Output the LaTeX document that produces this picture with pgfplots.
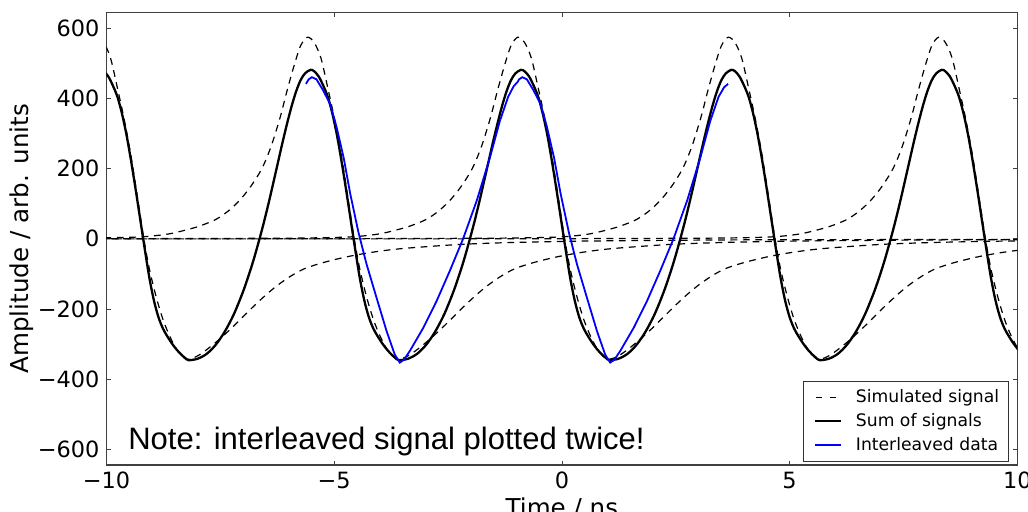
\documentclass[border=0pt]{standalone}
\usepackage{fontspec}
\setmainfont{DejaVu Sans}
\newfontfamily\notefont{Liberation Sans}
\usepackage{pgfplots}
\pgfplotsset{compat=1.18}
\definecolor{mplblue}{RGB}{0,0,255}
\begin{document}
\begin{tikzpicture}
\path[use as bounding box] (-53.25pt,-23.5pt) rectangle (460.75pt,232.5pt);
\begin{axis}[name=ax, at={(0,0)}, anchor=south west,
  scale only axis, width=455.4pt, height=226.15pt,
  xmin=-10, xmax=10, ymin=-645, ymax=645,
  xtick={-10,-5,0,5,10}, xticklabels={−10,−5,0,5,10},
  ytick={-600,-400,-200,0,200,400,600}, yticklabels={−600,−400,−200,0,200,400,600},
  tick label style={font=\fontsize{11.2}{13}\selectfont},
  tick align=inside, major tick length=2.2pt,
  every tick/.style={black!75, line width=0.4pt},
  axis line style={black!75, line width=0.55pt},
  legend cell align=left,
  legend style={at={(1,0)}, anchor=south east, xshift=-4.3pt, yshift=1.6pt,
    draw=black!80, line width=0.5pt, font=\fontsize{8.6}{10}\selectfont,
    inner xsep=2.5pt, inner ysep=2pt, row sep=0pt},
  sim/.style={black, line width=0.6pt, dash pattern=on 3.4pt off 2.8pt, smooth},
]
% simulated signals (dashed)
\addplot[sim, legend image code/.code={\draw[black, line width=0.6pt, dash pattern=on 3.4pt off 3.6pt] (0.3pt,0pt) -- (13pt,0pt); \path[draw=none] (-3pt,0pt) (18.5pt,0pt);}] coordinates {
(-10.36,550) (-10.21,575) (-10.06,560) (-9.91,515) (-9.76,430) (-9.61,340) (-9.46,235) (-9.31,110) (-9.18,0) (-9.06,-85) (-8.91,-165) (-8.76,-230) (-8.61,-278) (-8.46,-315) (-8.31,-338) (-8.25,-344) (-8.10,-340) (-7.95,-330) (-7.75,-311) (-7.50,-284) (-7.25,-254) (-7.00,-222) (-6.75,-190) (-6.50,-160) (-6.25,-133) (-5.95,-106) (-5.65,-85) (-5.25,-68) (-4.75,-52) (-4.25,-40) (-3.75,-31) (-3.25,-25) (-2.25,-16) (-1.25,-11) (-0.25,-8) (0.75,-6) (3.75,-3) (7.75,-2) (11.75,-1)
};
\addlegendentry{Simulated signal}
\addplot[sim, forget plot] coordinates {
(-10.59,2) (-9.59,4) (-9.09,7) (-8.59,15) (-8.09,31) (-7.84,42) (-7.59,56) (-7.34,78) (-7.09,108) (-6.84,148) (-6.59,200) (-6.39,262) (-6.19,345) (-6.04,420) (-5.89,490) (-5.74,550) (-5.59,575) (-5.44,560) (-5.29,515) (-5.14,430) (-4.99,340) (-4.84,235) (-4.69,110) (-4.56,0) (-4.44,-85) (-4.29,-165) (-4.14,-230) (-3.99,-278) (-3.84,-315) (-3.69,-338) (-3.63,-344) (-3.48,-340) (-3.33,-330) (-3.13,-311) (-2.88,-284) (-2.63,-254) (-2.38,-222) (-2.13,-190) (-1.88,-160) (-1.63,-133) (-1.33,-106) (-1.03,-85) (-0.63,-68) (-0.13,-52) (0.37,-40) (0.87,-31) (1.37,-25) (2.37,-16) (3.37,-11) (4.37,-8) (5.37,-6) (8.37,-3) (12.37,-2)
};
\addplot[sim, forget plot] coordinates {
(-10.97,0) (-7.97,1) (-5.97,2) (-4.97,4) (-4.47,7) (-3.97,15) (-3.47,31) (-3.22,42) (-2.97,56) (-2.72,78) (-2.47,108) (-2.22,148) (-1.97,200) (-1.77,262) (-1.57,345) (-1.42,420) (-1.27,490) (-1.12,550) (-0.97,575) (-0.82,560) (-0.67,515) (-0.52,430) (-0.37,340) (-0.22,235) (-0.07,110) (0.06,0) (0.18,-85) (0.33,-165) (0.48,-230) (0.63,-278) (0.78,-315) (0.93,-338) (0.99,-344) (1.14,-340) (1.29,-330) (1.49,-311) (1.74,-284) (1.99,-254) (2.24,-222) (2.49,-190) (2.74,-160) (2.99,-133) (3.29,-106) (3.59,-85) (3.99,-68) (4.49,-52) (4.99,-40) (5.49,-31) (5.99,-25) (6.99,-16) (7.99,-11) (8.99,-8) (9.99,-6) (12.99,-3)
};
\addplot[sim, forget plot] coordinates {
(-10.35,0) (-6.35,0) (-3.35,1) (-1.35,2) (-0.35,4) (0.15,7) (0.65,15) (1.15,31) (1.40,42) (1.65,56) (1.90,78) (2.15,108) (2.40,148) (2.65,200) (2.85,262) (3.05,345) (3.20,420) (3.35,490) (3.50,550) (3.65,575) (3.80,560) (3.95,515) (4.10,430) (4.25,340) (4.40,235) (4.55,110) (4.68,0) (4.80,-85) (4.95,-165) (5.10,-230) (5.25,-278) (5.40,-315) (5.55,-338) (5.61,-344) (5.76,-340) (5.91,-330) (6.11,-311) (6.36,-284) (6.61,-254) (6.86,-222) (7.11,-190) (7.36,-160) (7.61,-133) (7.91,-106) (8.21,-85) (8.61,-68) (9.11,-52) (9.61,-40) (10.11,-31)
};
\addplot[sim, forget plot] coordinates {
(-10.73,0) (-1.73,0) (1.27,1) (3.27,2) (4.27,4) (4.77,7) (5.27,15) (5.77,31) (6.02,42) (6.27,56) (6.52,78) (6.77,108) (7.02,148) (7.27,200) (7.47,262) (7.67,345) (7.82,420) (7.97,490) (8.12,550) (8.27,575) (8.42,560) (8.57,515) (8.72,430) (8.87,340) (9.02,235) (9.17,110) (9.30,0) (9.42,-85) (9.57,-165) (9.72,-230) (9.87,-278) (10.02,-315)
};
% sum of signals
\addplot[black, line width=1.15pt, smooth, legend image code/.code={\draw[black, line width=1.15pt] (0pt,0pt) -- (13pt,0pt); \path[draw=none] (-3pt,0pt) (18.5pt,0pt);}] coordinates {
(-10.26,472) (-10.14,482) (-10.06,478) (-9.96,463) (-9.86,437) (-9.76,405) (-9.66,357) (-9.56,296) (-9.46,222) (-9.36,141) (-9.26,56) (-9.16,-29) (-9.06,-110) (-8.96,-175) (-8.86,-223) (-8.76,-256) (-8.66,-279) (-8.56,-299) (-8.46,-316) (-8.36,-330) (-8.28,-339) (-8.20,-346) (-8.00,-342) (-7.80,-328) (-7.60,-302) (-7.40,-264) (-7.20,-214) (-7.00,-150) (-6.85,-93) (-6.75,-51)
(-6.64,0) (-6.54,49) (-6.44,102) (-6.34,158) (-6.24,215) (-6.14,272) (-6.04,326) (-5.94,376) (-5.84,419) (-5.74,452) (-5.64,472) (-5.52,482) (-5.44,478) (-5.34,463) (-5.24,437) (-5.14,405) (-5.04,357) (-4.94,296) (-4.84,222) (-4.74,141) (-4.64,56) (-4.54,-29) (-4.44,-110) (-4.34,-175) (-4.24,-223) (-4.14,-256) (-4.04,-279) (-3.94,-299) (-3.84,-316) (-3.74,-330) (-3.66,-339) (-3.58,-346) (-3.38,-342) (-3.18,-328) (-2.98,-302) (-2.78,-264) (-2.58,-214) (-2.38,-150) (-2.23,-93) (-2.13,-51)
(-2.02,0) (-1.92,49) (-1.82,102) (-1.72,158) (-1.62,215) (-1.52,272) (-1.42,326) (-1.32,376) (-1.22,419) (-1.12,452) (-1.02,472) (-0.90,482) (-0.82,478) (-0.72,463) (-0.62,437) (-0.52,405) (-0.42,357) (-0.32,296) (-0.22,222) (-0.12,141) (-0.02,56) (0.08,-29) (0.18,-110) (0.28,-175) (0.38,-223) (0.48,-256) (0.58,-279) (0.68,-299) (0.78,-316) (0.88,-330) (0.96,-339) (1.04,-346) (1.24,-342) (1.44,-328) (1.64,-302) (1.84,-264) (2.04,-214) (2.24,-150) (2.39,-93) (2.49,-51)
(2.60,0) (2.70,49) (2.80,102) (2.90,158) (3.00,215) (3.10,272) (3.20,326) (3.30,376) (3.40,419) (3.50,452) (3.60,472) (3.72,482) (3.80,478) (3.90,463) (4.00,437) (4.10,405) (4.20,357) (4.30,296) (4.40,222) (4.50,141) (4.60,56) (4.70,-29) (4.80,-110) (4.90,-175) (5.00,-223) (5.10,-256) (5.20,-279) (5.30,-299) (5.40,-316) (5.50,-330) (5.58,-339) (5.66,-346) (5.86,-342) (6.06,-328) (6.26,-302) (6.46,-264) (6.66,-214) (6.86,-150) (7.01,-93) (7.11,-51)
(7.22,0) (7.32,49) (7.42,102) (7.52,158) (7.62,215) (7.72,272) (7.82,326) (7.92,376) (8.02,419) (8.12,452) (8.22,472) (8.34,482) (8.42,478) (8.52,463) (8.62,437) (8.72,405) (8.82,357) (8.92,296) (9.02,222) (9.12,141) (9.22,56) (9.32,-29) (9.42,-110) (9.52,-175) (9.62,-223) (9.72,-256) (9.82,-279) (9.92,-299) (10.02,-316) (10.12,-330)
};
\addlegendentry{Sum of signals}
% interleaved data (plotted twice)
\addplot[mplblue, line width=0.9pt, legend image code/.code={\draw[mplblue, line width=0.8pt] (0pt,0pt) -- (13pt,0pt); \path[draw=none] (-3pt,0pt) (18.5pt,0pt);}] coordinates {
(-5.62,442) (-5.56,455) (-5.49,461) (-5.39,455) (-5.25,425) (-5.09,385) (-4.95,320) (-4.79,230) (-4.65,130) (-4.47,20) (-4.29,-72) (-4.07,-168) (-3.85,-263) (-3.67,-330) (-3.56,-353) (-3.47,-345) (-3.34,-320) (-3.04,-253) (-2.75,-177) (-2.46,-91) (-2.17,0) (-1.87,109) (-1.58,232) (-1.36,337) (-1.18,405) (-1.06,435) (-0.97,448)
(-0.94,455) (-0.87,461) (-0.77,455) (-0.63,425) (-0.47,385) (-0.33,320) (-0.17,230) (-0.03,130) (0.15,20) (0.33,-72) (0.55,-168) (0.77,-263) (0.95,-330) (1.06,-353) (1.15,-345) (1.28,-320) (1.58,-253) (1.87,-177) (2.16,-91) (2.45,0) (2.75,109) (3.04,232) (3.26,337) (3.44,405) (3.56,432) (3.65,442)
};
\addlegendentry{Interleaved data}
\node[anchor=base west, inner sep=0pt, font=\notefont\fontsize{15.5}{18}\selectfont] at (axis cs:-9.53,-600) {Note: interleaved signal plotted twice!};
\end{axis}
\node[rotate=90, font=\fontsize{12.3}{14}\selectfont] at ([xshift=-42.5pt]ax.west) {Amplitude / arb. units};
\node[anchor=north, inner sep=0pt, font=\fontsize{12.3}{14}\selectfont] at ([yshift=-16pt]ax.south) {Time / ns};
\end{tikzpicture}
\end{document}
